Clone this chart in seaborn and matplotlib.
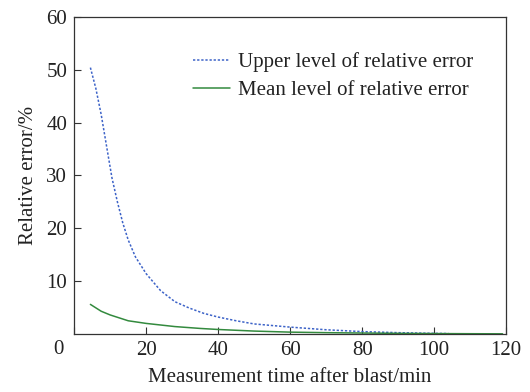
import numpy as np
import pandas as pd
import matplotlib
matplotlib.use("Agg")
import matplotlib.pyplot as plt
import seaborn as sns

# values
time_upper = [4.5, 6, 7.5, 9, 10.5, 12, 13.5, 15, 17, 20, 24, 28, 32, 36, 40, 45, 50, 60, 70, 80, 90, 100, 104]
err_upper = [50.4, 46.5, 41.5, 35.5, 29.5, 25.0, 21.0, 17.8, 14.6, 11.4, 8.2, 6.1, 4.9, 3.9, 3.2, 2.5, 1.9, 1.3, 0.8, 0.45, 0.25, 0.12, 0.08]
time_mean = [4.5, 7.5, 10, 15, 20, 28, 35, 40, 50, 60, 70, 80, 90, 100, 110, 119]
err_mean = [5.6, 4.3, 3.6, 2.5, 2.0, 1.4, 1.05, 0.85, 0.55, 0.35, 0.25, 0.18, 0.12, 0.08, 0.05, 0.03]
x_ticks = [0, 20, 40, 60, 80, 100, 120]
y_ticks = [10, 20, 30, 40, 50, 60]

sns.set_style("white")
plt.rcParams["font.family"] = ["Liberation Serif", "DejaVu Serif"]

fs = 15
fig, ax = plt.subplots(figsize=(5.3, 3.92), dpi=100)
fig.subplots_adjust(left=0.14, right=0.955, top=0.957, bottom=0.148)

sns.lineplot(x=time_upper, y=err_upper, ax=ax, color="#3d63c8", linestyle=(0, (1.5, 1.2)),
             linewidth=1.1, label="Upper level of relative error")
sns.lineplot(x=time_mean, y=err_mean, ax=ax, color="#338a3e", linewidth=1.1,
             label="Mean level of relative error")

ax.set_xlim(0, 120)
ax.set_ylim(0, 60)
ax.set_xticks(x_ticks)
ax.set_xticklabels([""] + [str(t) for t in x_ticks[1:]])
ax.set_yticks(y_ticks)
ax.tick_params(bottom=True, left=True, top=False, right=False, direction="in", length=5,
               width=0.8, color="#333333", labelsize=fs, labelcolor="#222222", pad=5)
for s in ax.spines.values():
    s.set_color("#333333")
    s.set_linewidth(0.9)
ax.text(-0.025, -0.02, "0", transform=ax.transAxes, ha="right", va="top", fontsize=fs, color="#222222")

ax.set_xlabel("Measurement time after blast/min", fontsize=fs, color="#222222", labelpad=6)
ax.set_ylabel("Relative error/%", fontsize=fs, color="#222222", labelpad=6)

leg = ax.legend(loc="upper left", bbox_to_anchor=(0.232, 0.948), frameon=False, fontsize=fs,
                handlelength=1.75, handletextpad=0.4, labelspacing=0.4)
for t in leg.get_texts():
    t.set_color("#222222")

fig.savefig("out.png", dpi=100)
